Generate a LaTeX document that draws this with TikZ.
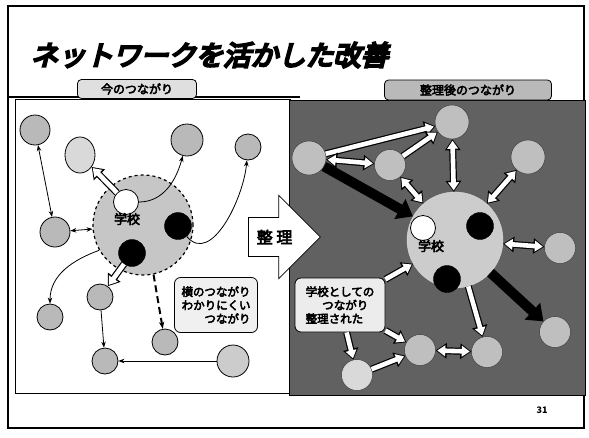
\documentclass[tikz,border=0pt]{standalone}
\usepackage{fontspec}
\setmainfont{Noto Sans CJK JP}
\newfontfamily\titlefont{Noto Sans CJK JP}[FakeSlant=0.25,FakeBold=8]
\newfontfamily\boldjp{Noto Sans CJK JP}[FakeBold=4]
\usetikzlibrary{arrows.meta,shapes.arrows,shapes.geometric}

\tikzstyle{ball} = [circle, draw, thick, fill=gray!55, minimum size=26pt, inner sep=0pt]
\tikzstyle{rball} = [circle, draw=black!80, fill=gray!50, minimum size=31pt, inner sep=0pt]
\tikzstyle{blackdot} = [circle, draw, fill=black, minimum size=27pt, inner sep=0pt]
\tikzstyle{whitedot} = [circle, draw, thick, fill=white, minimum size=25pt, inner sep=0pt]
\tikzstyle{link} = [thick, -{Stealth[length=6pt]}]
\tikzstyle{linkboth} = [thick, {Stealth[length=6pt]}-{Stealth[length=6pt]}]
\tikzstyle{warrow} = [line width=7pt, -{Triangle[length=11pt,width=15pt]},
  postaction={draw=white, line width=4.6pt, -{Triangle[length=8pt,width=10.5pt]}, shorten >=1.5pt}]
\tikzstyle{wboth} = [line width=7pt, {Triangle[length=11pt,width=15pt]}-{Triangle[length=11pt,width=15pt]},
  postaction={draw=white, line width=4.6pt, {Triangle[length=8pt,width=10.5pt]}-{Triangle[length=8pt,width=10.5pt]}, shorten >=1.5pt, shorten <=1.5pt}]
\tikzstyle{barrow} = [line width=10pt, -{Triangle[length=15pt,width=22pt]}]
\tikzstyle{tag} = [draw, thick, rounded corners=4pt, font=\boldjp\fontsize{12}{14}\selectfont, inner sep=2pt]
\tikzstyle{note} = [draw, thick, rounded corners=6pt, fill=gray!12, align=right, font=\boldjp\fontsize{11.5}{13.5}\selectfont]

\begin{document}
\begin{tikzpicture}[x=1pt, y=-1pt]
    \useasboundingbox (0,0) rectangle (589,437);
    \fill[white] (0,0) rectangle (589,437);
    \draw[line width=1.5pt] (8,6) rectangle (584,428); % slide frame

    \node (title) [anchor=west, font=\titlefont\fontsize{27.5}{30}\selectfont] at (27,55) {ネットワークを活かした改善};

    % panels
    \draw[line width=1.5pt] (8,97) -- (300,97);
    \draw[thick, fill=white] (15,99) rectangle (290,393);
    \draw[thick, fill=black!62] (289,100) rectangle (585,395);

    \node (ltag) [tag, fill=gray!25, minimum width=119pt, minimum height=19pt] at (137,89) {今のつながり};
    \node (rtag) [tag, fill=gray!55, minimum width=167pt, minimum height=20pt] at (468,90) {整理後のつながり};

    % left: present network
    \node (big) [circle, draw, very thick, dashed, fill=gray!45, minimum size=100pt] at (143,225) {};
    \node (w) [whitedot] at (126,202) {};
    \node (k1) [blackdot] at (178,226) {};
    \node (k2) [blackdot] at (132,253) {};
    \node (school) [font=\boldjp\fontsize{13}{13}\selectfont] at (127,219) {学校};

    \node (a) [ball, minimum size=30pt] at (35,130) {};
    \node (b) [ellipse, draw, thick, fill=gray!30, minimum width=30pt, minimum height=36pt] at (80,155) {};
    \node (c) [ball, minimum size=32pt] at (187,140) {};
    \node (d) [ball] at (248,147) {};
    \node (e) [ball, minimum size=30pt] at (55,232) {};
    \node (f) [ball] at (50,317) {};
    \node (g) [ball] at (100,297) {};
    \node (h) [ball] at (105,361) {};
    \node (i) [ball] at (165,342) {};
    \node (j) [ball, minimum size=32pt, fill=gray!40] at (233,361) {};

    \draw [linkboth] (a) -- (e);
    \draw [linkboth] (e) -- (big);
    \draw [warrow] (w) -- (b);
    \draw [link] (w.east) to[out=0, in=-105] (c);
    \draw [link] (k1) to[out=-50, in=-95] (d);
    \draw [link] (big.210) to[out=200, in=90] (f);
    \draw [warrow] (k2) -- (g);
    \draw [line width=2pt, dash pattern=on 7pt off 4pt, -{Stealth[length=7pt]}] (big.-78) -- (i);
    \draw [link] (g) -- (h);
    \draw [link] (j) -- (h);

    \node (lnote) [note, minimum width=83pt, minimum height=55pt] at (216,305) {横のつながり\\わかりにくい\\つながり};

    % middle arrow
    \node (seiri) [single arrow, draw, thick, fill=white, anchor=tail, minimum height=72pt,
      single arrow head extend=22pt, inner ysep=12pt, font=\boldjp\fontsize{16}{16}\selectfont] at (248,237) {整\ 理};

    % right: improved network
    \node (rc) [circle, draw=gray!30, fill=gray!40, minimum size=96pt] at (455,240) {};
    \node (w2) [whitedot] at (423,228) {};
    \node (k3) [blackdot] at (480,226) {};
    \node (k4) [blackdot] at (447,279) {};
    \node (school2) [font=\boldjp\fontsize{13}{13}\selectfont] at (431,246) {学校};

    \node (r1) [rball, minimum size=34pt] at (309,158) {};
    \node (r2) [rball] at (390,165) {};
    \node (r3) [rball, minimum size=34pt] at (452,122) {};
    \node (r4) [rball, minimum size=34pt] at (528,157) {};
    \node (r5) [rball] at (560,248) {};
    \node (r6) [rball] at (555,332) {};
    \node (r7) [rball] at (487,352) {};
    \node (r8) [rball] at (420,350) {};
    \node (r9) [rball, fill=gray!30] at (357,375) {};

    \draw [barrow] (r1) -- (rc);
    \draw [barrow] (rc) -- (r6);
    \draw [warrow] (r1) -- (r3);
    \draw [wboth] (r1) -- (r2);
    \draw [warrow] (r2) -- (r3);
    \draw [wboth] (rc) -- (r3);
    \draw [wboth] (rc) -- (r2);
    \draw [wboth] (rc) -- (r4);
    \draw [wboth] (rc) -- (r5);
    \draw [warrow] (rc) -- (r7);
    \draw [wboth] (r8) -- (r7);
    \draw [warrow] (r9) -- (r8);

    \node (rnote) [note, fill=gray!15, align=left, minimum width=90pt, minimum height=54pt] at (340,305) {学校としての\\\quad\ \ つながり\\整理された};
    \draw [warrow] (rnote) -- (rc);
    \draw [warrow] (rnote) -- (r9);
    \draw [warrow] (rnote) -- (r8);

    \node (page) [font=\bfseries\fontsize{9}{9}\selectfont] at (542,410) {31};
\end{tikzpicture}
\end{document}
